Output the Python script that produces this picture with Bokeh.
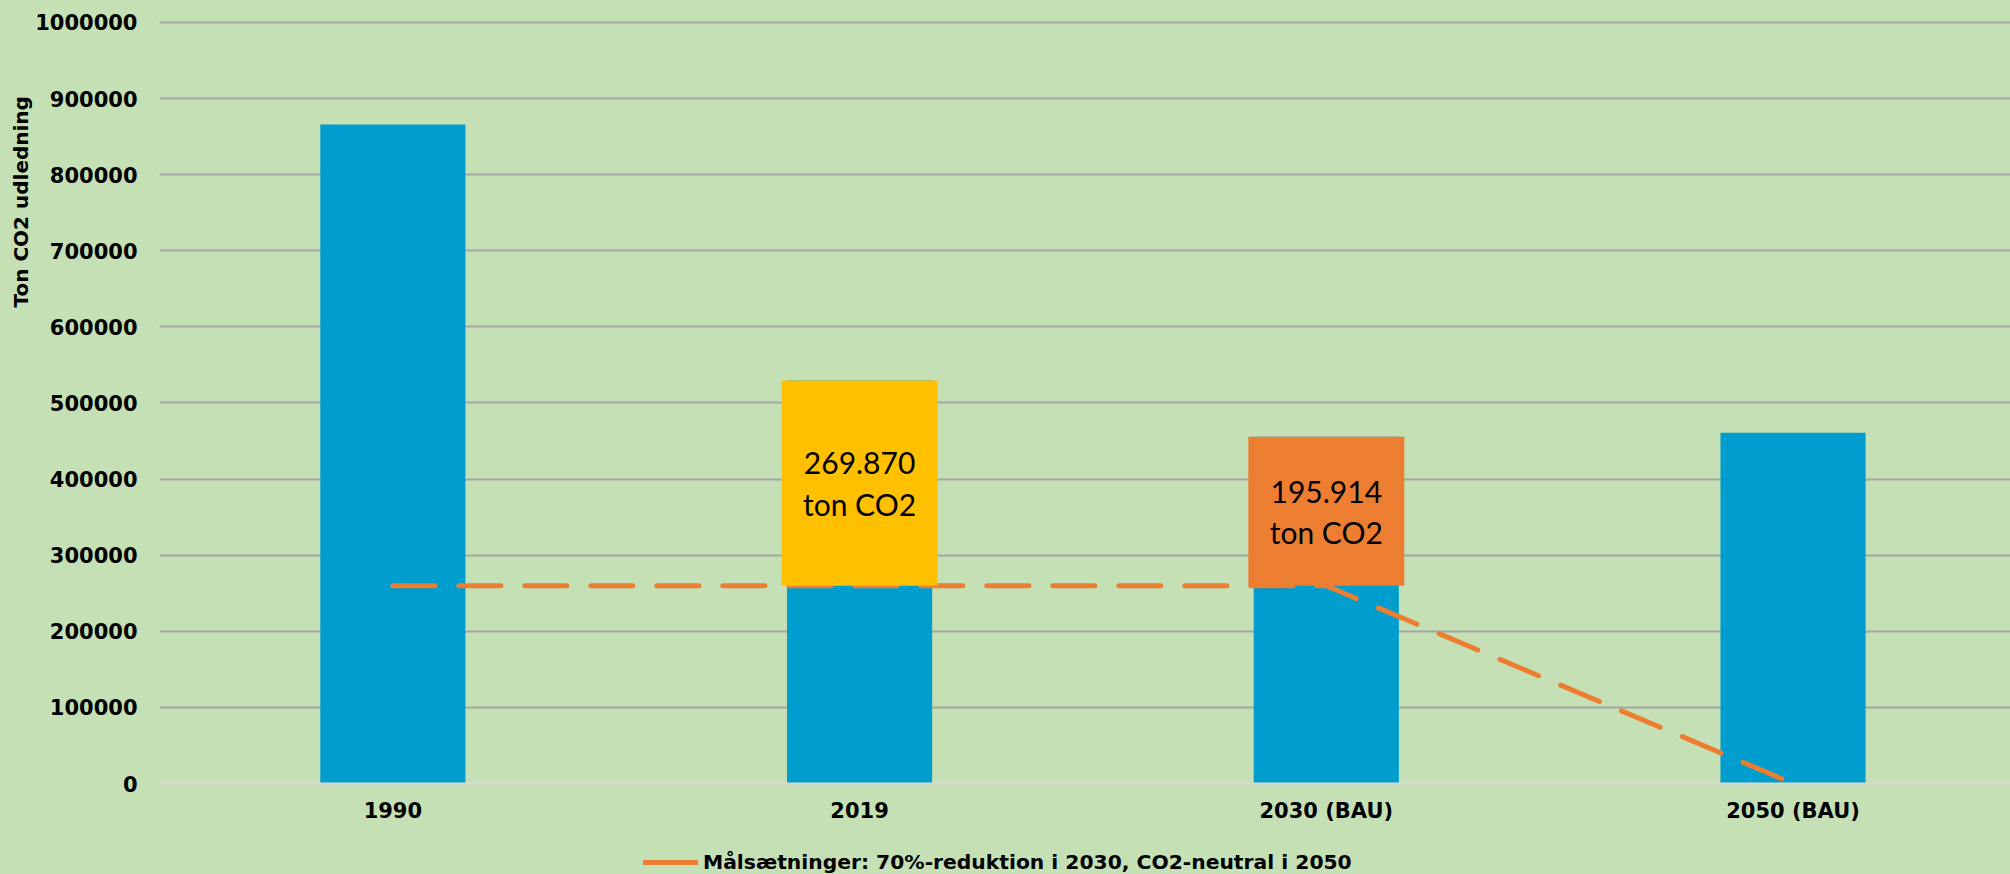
from bokeh.plotting import figure
from bokeh.layouts import column
from bokeh.models import (Range1d, FixedTicker, NumeralTickFormatter, Legend, LegendItem, Title)
from bokeh.core.properties import value
from bokeh.embed import file_html
from bokeh.resources import INLINE

# ---------------- data ----------------
categories = ["1990", "2019", "2030 (BAU)", "2050 (BAU)"]
emissions = [866000, 529670, 455714, 461000]          # ton CO2 (bar tops)
target = [259800, 259800, 259800, 0]                  # Målsætninger line
box_categories = ["2019", "2030 (BAU)"]
box_values = [269870, 195914]                         # gap above target
box_colors = ["#FFC000", "#ED7D31"]
y_ticks = [0, 100000, 200000, 300000, 400000, 500000, 600000, 700000, 800000, 900000, 1000000]
legend_label = "Målsætninger: 70%-reduktion i 2030, CO2-neutral i 2050"
y_label = "Ton CO2 udledning"

BG = "#C5E0B4"
BLUE = "#009ECE"
ORANGE = "#ED7D31"
FONT = "DejaVu Sans"

xs = list(range(len(categories)))
idx = {c: i for i, c in enumerate(categories)}

p = figure(width=2010, height=840, output_backend="svg", toolbar_location=None,
           x_range=Range1d(-0.5, 3.466), y_range=Range1d(0, 1002600),
           min_border_left=159, min_border_right=0, min_border_top=20, min_border_bottom=57)
p.background_fill_color = BG
p.border_fill_color = BG
p.outline_line_color = None

# bars
p.vbar(x=xs, top=emissions, bottom=0, width=0.311, fill_color=BLUE, line_color=None)

# target dashed line
p.line(x=xs, y=target, line_color=ORANGE, line_width=5, line_dash="42 24", line_cap="round")

# annotation boxes
bx = [idx[c] for c in box_categories]
bb = [target[i] for i in bx]
bt = [target[i] + v for i, v in zip(bx, box_values)]
p.quad(left=[x - 0.167 for x in bx], right=[x + 0.167 for x in bx], bottom=bb, top=bt,
       fill_color=box_colors, line_color=None)
texts = ["{:,}".format(v).replace(",", ".") + "\nton CO2" for v in box_values]
p.text(x=bx, y=[(b + t) / 2 for b, t in zip(bb, bt)], text=texts,
       text_font=value("Lato"), text_font_size="30px", text_color="#000000",
       text_align="center", text_baseline="middle", text_line_height=1.15)

# axes
p.xaxis.ticker = FixedTicker(ticks=xs)
p.xaxis.major_label_overrides = {i: c for i, c in enumerate(categories)}
p.xaxis.major_label_text_font = FONT
p.xaxis.major_label_text_font_style = "bold"
p.xaxis.major_label_text_font_size = "21px"
p.xaxis.major_label_text_color = "#000000"
p.xaxis.major_label_standoff = 9
p.xaxis.major_tick_line_color = None
p.xaxis.minor_tick_line_color = None
p.xaxis.axis_line_color = "#D9D9D9"
p.xaxis.axis_line_width = 2

p.yaxis.ticker = FixedTicker(ticks=y_ticks)
p.yaxis.formatter = NumeralTickFormatter(format="0")
p.yaxis.major_label_text_font = FONT
p.yaxis.major_label_text_font_style = "bold"
p.yaxis.major_label_text_font_size = "21px"
p.yaxis.major_label_text_color = "#000000"
p.yaxis.major_label_standoff = 16
p.yaxis.major_tick_line_color = None
p.yaxis.minor_tick_line_color = None
p.yaxis.axis_line_color = None

# y-axis title placed high along the axis, as in the original
ytitle = Title(text=y_label, align="left", offset=476, standoff=0,
               text_font=FONT, text_font_style="bold", text_font_size="20px",
               text_color="#000000")
p.add_layout(ytitle, "left")

p.xgrid.grid_line_color = None
p.ygrid.ticker = FixedTicker(ticks=y_ticks[1:])
p.ygrid.grid_line_color = "#A6A6A6"
p.ygrid.grid_line_width = 2

# legend strip below the chart
lg = figure(width=2010, height=34, output_backend="svg", toolbar_location=None,
            x_range=Range1d(0, 1), y_range=Range1d(0, 1),
            x_axis_location=None, y_axis_location=None,
            min_border_left=159, min_border_right=0, min_border_top=0, min_border_bottom=0)
lg.background_fill_color = BG
lg.border_fill_color = BG
lg.outline_line_color = None
lg.xgrid.grid_line_color = None
lg.ygrid.grid_line_color = None
swatch = lg.line(x=[-10, -9], y=[-10, -10], line_color=ORANGE, line_width=5, line_cap="round")

legend = Legend(items=[LegendItem(label=legend_label, renderers=[swatch])],
                location=(484, 0), orientation="horizontal",
                glyph_width=55, glyph_height=20, label_height=20, label_standoff=5,
                padding=0, margin=0, spacing=0,
                background_fill_alpha=0, border_line_alpha=0,
                label_text_font=FONT, label_text_font_style="bold",
                label_text_font_size="20.3px", label_text_color="#000000")
lg.add_layout(legend, "center")

layout = column(p, lg, spacing=0)

html = file_html(layout, INLINE)
html = html.replace("</head>",
                    "<style>html,body{margin:0;padding:0;background:%s;overflow:hidden;}</style></head>" % BG, 1)
open("out.html", "w").write(html)
